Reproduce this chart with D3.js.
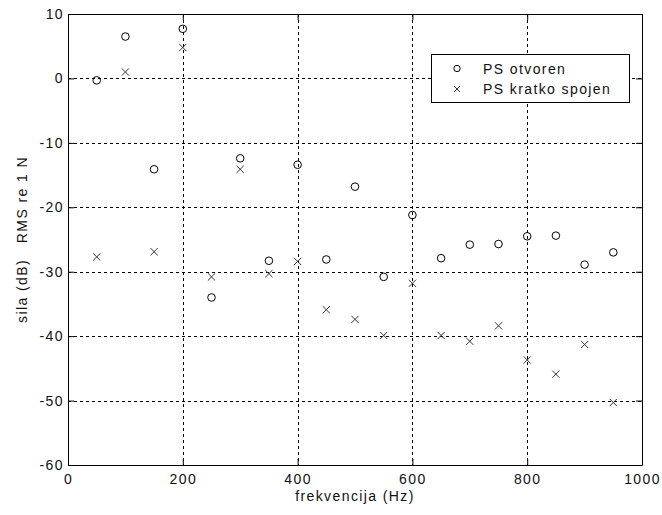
<!DOCTYPE html>
<html>
<head>
<meta charset="utf-8">
<script src="https://cdn.jsdelivr.net/npm/d3@7"></script>
<style>
html,body{margin:0;padding:0;background:#fff;}
text{font-family:"Liberation Sans",Arial,Helvetica,sans-serif;font-size:14px;letter-spacing:1.4px;fill:#111;}
</style>
</head>
<body>
<svg id="chart" width="662" height="515"></svg>
<script>
const frequencies = [50,100,150,200,250,300,350,400,450,500,550,600,650,700,750,800,850,900,950];
const psOtvoren = [-0.3,6.5,-14.1,7.7,-34.0,-12.4,-28.3,-13.4,-28.1,-16.8,-30.8,-21.2,-27.9,-25.8,-25.7,-24.5,-24.4,-28.9,-27.0];
const psKratko = [-27.7,1.0,-26.9,4.8,-30.8,-14.1,-30.3,-28.4,-35.9,-37.4,-39.9,-31.8,-39.9,-40.8,-38.4,-43.7,-45.9,-41.3,-50.3];
const xTicks = [0,200,400,600,800,1000];
const yTicks = [10,0,-10,-20,-30,-40,-50,-60];
const seriesNames = ["PS otvoren","PS kratko spojen"];
const xLabel = "frekvencija (Hz)";
const yLabel = "sila (dB)   RMS re 1 N";

const svg = d3.select("#chart");
const L = 68, R = 642, T = 14, B = 465;
const x = d3.scaleLinear().domain([0,1000]).range([L,R]);
const y = d3.scaleLinear().domain([-60,10]).range([B,T]);
const fmt = d => String(d);

// grid
const grid = svg.append("g").attr("stroke","#000").attr("stroke-width",1).attr("stroke-dasharray","3,3").attr("shape-rendering","crispEdges");
grid.selectAll(".gx").data(xTicks.filter(d=>d>0&&d<1000)).enter().append("line")
  .attr("x1",d=>Math.round(x(d))+0.5).attr("x2",d=>Math.round(x(d))+0.5).attr("y1",T).attr("y2",B);
grid.selectAll(".gy").data(yTicks.filter(d=>d>-60&&d<10)).enter().append("line")
  .attr("y1",d=>Math.round(y(d))+0.5).attr("y2",d=>Math.round(y(d))+0.5).attr("x1",L).attr("x2",R);

// axes
const tick = 6;
const axB = svg.append("g").attr("transform",`translate(0,${B})`)
  .call(d3.axisBottom(x).tickValues(xTicks).tickFormat(fmt).tickSizeInner(-tick).tickSizeOuter(0).tickPadding(9));
const axT = svg.append("g").attr("transform",`translate(0,${T})`)
  .call(d3.axisTop(x).tickValues(xTicks).tickSizeInner(-tick).tickSizeOuter(0).tickFormat(""));
const axL = svg.append("g").attr("transform",`translate(${L},0)`)
  .call(d3.axisLeft(y).tickValues(yTicks).tickFormat(fmt).tickSizeInner(-tick).tickSizeOuter(0).tickPadding(4));
const axR = svg.append("g").attr("transform",`translate(${R},0)`)
  .call(d3.axisRight(y).tickValues(yTicks).tickSizeInner(-tick).tickSizeOuter(0).tickFormat(""));
[axB,axT,axL,axR].forEach(a=>{
  a.selectAll("path.domain").attr("stroke","#000").attr("stroke-width",1);
  a.selectAll(".tick line").attr("stroke","#000");
  a.selectAll("text").attr("font-family",null).attr("font-size",null).attr("fill","#111");
});
axB.selectAll(".tick text").attr("dy","0.71em");

// labels
svg.append("text").attr("x",(L+R)/2).attr("y",501).attr("text-anchor","middle").text(xLabel);
svg.append("text").attr("transform",`translate(27,${(T+B)/2}) rotate(-90)`).attr("text-anchor","middle")
  .attr("xml:space","preserve").style("white-space","pre").text(yLabel);

// markers
const pts1 = frequencies.map((f,i)=>({f, v: psOtvoren[i]}));
const pts2 = frequencies.map((f,i)=>({f, v: psKratko[i]}));
svg.append("g").selectAll("circle").data(pts1).enter().append("circle")
  .attr("cx",d=>x(d.f)).attr("cy",d=>y(d.v)).attr("r",3.8)
  .attr("fill","none").attr("stroke","#000").attr("stroke-width",1);
const cs = 3.6;
svg.append("g").selectAll("path").data(pts2).enter().append("path")
  .attr("d",d=>{const cx=x(d.f), cy=y(d.v);
    return `M${cx-cs},${cy-cs}L${cx+cs},${cy+cs}M${cx-cs},${cy+cs}L${cx+cs},${cy-cs}`;})
  .attr("fill","none").attr("stroke","#333").attr("stroke-width",1);

// legend
const lg = svg.append("g");
lg.append("rect").attr("x",431.5).attr("y",54.5).attr("width",198).attr("height",48)
  .attr("fill","#fff").attr("stroke","#000").attr("stroke-width",1);
lg.append("circle").attr("cx",457).attr("cy",68.5).attr("r",3.2).attr("fill","none").attr("stroke","#000");
const lc = 3;
lg.append("path").attr("d",`M${457-lc},${89-lc}L${457+lc},${89+lc}M${457-lc},${89+lc}L${457+lc},${89-lc}`)
  .attr("stroke","#333").attr("fill","none");
lg.append("text").attr("x",483).attr("y",73.5).text(seriesNames[0]);
lg.append("text").attr("x",483).attr("y",94).text(seriesNames[1]);
</script>
</body>
</html>
